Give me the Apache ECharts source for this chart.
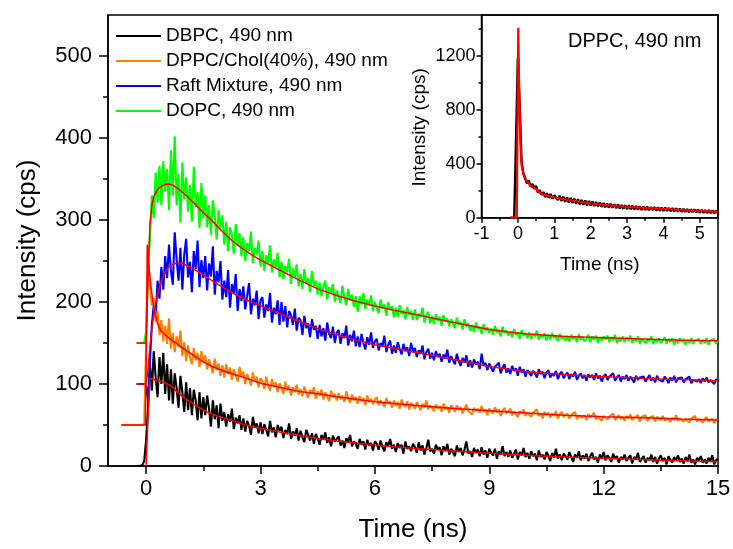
<!DOCTYPE html>
<html><head><meta charset="utf-8">
<script src="https://cdn.jsdelivr.net/npm/echarts@6/dist/echarts.min.js"></script>
<style>html,body{margin:0;padding:0;background:#fff}#c{width:733px;height:549px}</style>
</head><body><div id="c"></div>
<script>
// ---- axis ticks ----
const xTicksMain = [0, 3, 6, 9, 12, 15];
const xMinorMain = [1.5, 4.5, 7.5, 10.5, 13.5];
const yTicksMain = [0, 100, 200, 300, 400, 500];
const yMinorMain = [50, 150, 250, 350, 450];
const xTicksInset = [-1, 0, 1, 2, 3, 4, 5];
const xMinorInset = [-0.5, 0.5, 1.5, 2.5, 3.5, 4.5];
const yTicksInset = [0, 400, 800, 1200];
const yMinorInset = [200, 600, 1000, 1400];

const legendNames = ['DBPC, 490 nm', 'DPPC/Chol(40%), 490 nm', 'Raft Mixture, 490 nm', 'DOPC, 490 nm'];
const insetLabel = 'DPPC, 490 nm';

// ---- measured decays (channel width 0.05 ns) ----
const STEP = 0.05;
const dbpcStart = -0.2;
const dbpcCounts = [0,0,1,6, 32,72, 125,92,140,108,84,133,100,138,88,
124,80,118,76,113,95,71,110,90,66,
102,68,95,62,93,80,56,90,58,84,
62,86,70,48,80,57,74,46,76,55,
66,48,63,54,70,45,59,52,62,44,
58,42,55,49,38,60,47,52,40,53,
39,51,44,36,55,41,47,35,50,43,
48,34,44,39,52,33,42,37,46,31,
43,35,29,44,38,31,40,27,39,34,
26,38,32,41,28,35,24,37,30,33,
36,25,31,22,34,29,38,24,30,27,
21,33,26,30,20,32,25,28,19,30,
27,20,31,23,18,29,24,33,21,26,
17,28,22,26,15,30,21,24,18,27,
23,16,29,19,25,14,22,32,18,21,
15,26,20,23,13,24,18,27,14,21,
19,12,25,17,22,13,20,30,15,18,
11,22,16,20,12,23,14,19,10,21,
16,13,21,9,18,14,24,12,17,11,
19,10,15,20,8,17,13,22,11,16,
9,18,12,15,7,19,11,14,8,17,
13,6,16,10,21,9,14,7,15,12,
8,17,11,5,14,10,18,7,13,9,
15,6,12,16,8,11,4,14,9,17,
7,13,10,5,15,9,12,4,11,8,
14,6,10,13,3,11,8,16,5,9,
12,4,10,7,14,5,11,3,9,13,
6,10,2,12,8,4,11,7,13,5,
9,3,11,6,14,4,8,2,10,7,
12,4,8,3,10,6,13,2,7,9];

const cholStart = -0.65;
const cholCounts = [50,50,50,50,50,50,50,50,50,50,50,50,51, 150,262, 218,196,205,176,189,160,178,152,171,
149,180,143,162,139,158,145,165,134,151,
128,147,133,124,144,129,138,121,140,126,
135,118,130,122,113,131,117,125,110,123,
108,124,112,120,105,118,111,103,121,108,
115,100,112,106,98,114,103,109,96,107,
104,94,109,99,92,106,97,102,90,101,
95,88,103,92,98,86,96,90,99,87,
94,85,97,89,83,93,88,96,82,91,
86,93,81,90,85,79,92,84,88,80,
89,81,86,78,91,83,77,87,80,84,
76,85,79,83,74,86,78,82,75,81,
84,74,80,77,72,83,76,79,71,80,
73,78,70,81,75,72,79,69,77,74,
70,78,73,68,76,71,80,69,74,72,
67,75,70,73,66,76,69,72,65,74,
71,66,74,68,72,64,70,75,67,69,
63,71,67,70,65,73,66,69,62,70,
68,64,72,65,69,61,67,71,64,66,
70,62,66,68,60,67,64,69,61,65,
67,60,65,63,69,61,64,58,66,62,
65,59,64,61,67,58,63,66,60,62,
64,58,62,60,66,57,61,63,59,62,
56,63,59,61,65,57,60,62,55,61,
63,57,60,58,64,56,59,62,57,60,
55,61,58,63,56,59,57,62,54,60,
58,62,55,59,57,61,54,60,58,56,
61,55,58,60,54,59,56,62,55,58,
60,54,57,59,53,58,56,61,54,57,
59,53,57,60,54,56,58,52,57,56];

const raftStart = -0.25;
const raftCounts = [100,100,100,100,100, 97,80, 128,172,196,181,226,204,243,215,256,
229,270,238,221,285,252,226,266,215,258,
277,230,249,212,262,240,275,218,251,229,
256,214,247,231,268,209,238,224,250,203,
226,206,239,193,222,210,234,189,216,201,
219,191,208,223,185,204,196,214,179,202,
206,181,197,189,211,175,193,185,202,172,
200,176,195,169,189,184,172,192,165,181,
178,160,183,168,174,157,179,166,171,155,
172,158,168,153,175,161,156,170,150,163,
166,149,162,156,171,147,160,152,165,146,
158,145,161,150,142,157,148,163,144,152,
155,141,150,146,159,139,148,153,137,147,
138,151,143,136,149,140,145,134,150,139,
144,133,141,137,147,130,139,143,131,138,
129,140,133,137,127,136,131,142,126,134,
133,124,137,128,122,132,126,135,121,129,
120,130,124,127,118,137,122,126,117,125,
123,115,121,119,126,113,120,124,114,119,
112,122,116,119,110,121,114,118,109,117,
119,110,116,113,108,118,112,115,107,114,
117,108,113,110,116,106,112,115,107,111,
114,106,112,109,115,105,110,113,107,111,
104,112,108,111,105,113,107,110,103,109,
112,105,109,107,113,104,108,111,103,109,
106,111,104,109,107,102,110,105,108,106,
109,103,107,111,104,108,102,110,105,107,
103,109,106,101,108,104,110,102,107,105,
108,102,106,104,109,101,105,107,103,106,
101,107,103,108,102,105,104,100,106,103];

const dopcStart = -0.25;
const dopcCounts = [150,150,150,150,150, 165,240, 278,330,302,358,321,366,318,372,335,
362,312,385,330,402,318,356,297,370,325,
352,310,343,298,365,316,334,290,345,302,
330,291,318,282,324,305,276,312,290,306,
270,298,262,291,282,259,295,268,284,256,
279,250,272,262,286,247,266,258,275,243,
262,238,257,247,269,236,252,243,260,230,
249,228,244,236,253,222,241,230,246,219,
234,216,240,222,229,212,238,219,226,209,
224,207,219,226,203,218,210,222,200,214,
213,199,220,205,196,216,202,209,194,207,
188,207,197,211,191,203,196,208,189,200,
199,186,203,192,197,183,200,190,195,181,
193,182,196,185,190,179,194,184,189,178,
191,178,186,182,193,175,184,188,174,183,
173,185,177,182,171,184,176,180,170,179,
178,168,181,172,176,166,179,170,174,165,
172,163,175,167,170,161,173,165,169,162,
168,160,171,163,166,158,170,162,165,159,
164,157,167,160,163,155,166,159,162,156,
163,155,161,158,165,154,160,157,162,153,
160,154,162,156,159,152,161,155,158,153,
159,152,160,155,158,151,161,154,157,152,
155,160,151,158,154,159,150,157,153,158,
154,159,151,157,153,160,150,156,152,158,
151,157,153,159,150,156,152,158,149,155,
157,150,155,152,158,149,154,151,156,150,
153,157,149,155,151,156,148,154,150,156,
151,155,148,154,150,156,149,153,151,155,
149,154,150,156,148,153,151,155,149,153];

const dppcStart = -0.2;
const dppcCounts = [0,0,2,5, 1180,820,420,330,
318,255,276,229,250,214,236,186,203,169,190,152,181,147,175,140,166,
170,131,162,124,155,118,150,112,147,109,
141,103,137,99,132,96,127,92,124,90,
120,87,116,84,112,80,109,78,105,76,
104,74,100,71,97,69,94,66,92,65,
92,63,89,61,87,60,85,58,83,57,
82,56,79,55,78,53,77,52,75,51,
74,50,72,48,71,47,69,45,67,44,
66,43,64,42,62,41,61,39,59,38,
58,37,56,35,55,34,53,33,52,32];

// ---- fitted curves [time ns, counts] ----
const dbpcFit = [[0,0],[0.05,60],[0.1,107],[0.2,105.5],[0.3,104],[0.4,103],[0.5,101.5],[0.55,101],[0.6,99],[0.7,96],[0.8,91],[0.9,87],[1,83],[1.25,75.5],[1.5,68],[1.75,63],[2,59],[2.25,55.5],[2.5,51.5],[2.75,48.5],[3,46],[3.5,41.5],[4,37.5],[4.5,33.5],[5,30.5],[5.5,28],[6,25.5],[6.5,23.5],[7,21.5],[7.5,20],[8,18.5],[8.5,17],[9,15.5],[9.5,14.2],[10,13],[10.5,12],[11,11],[11.5,10.2],[12,9.4],[12.5,8.6],[13,7.8],[13.5,7.1],[14,6.5],[14.5,5.9],[15,5.3]];
const cholFit = [[-0.65,50],[-0.02,50],[0.01,160],[0.03,270],[0.06,250],[0.1,230],[0.15,210],[0.2,194],[0.25,183],[0.3,174],[0.35,168],[0.4,164],[0.5,160],[0.6,156],[0.7,152.5],[0.8,149.5],[0.9,146],[1,142.5],[1.25,134.5],[1.5,127],[1.75,121],[2,116.5],[2.25,112.5],[2.5,109],[2.75,105],[3,101],[3.5,96],[4,91],[4.5,88],[5,84.5],[5.5,81.5],[6,78.5],[6.5,76.2],[7,74],[7.5,72.2],[8,70.5],[8.5,69],[9,67.5],[9.5,66],[10,64.5],[10.5,63.2],[11,62],[11.5,61],[12,60.2],[12.5,59.5],[13,58.8],[13.5,58.1],[14,57.4],[14.5,56.8],[15,56.2]];
const raftFit = [[-0.25,100],[0,100],[0.05,118],[0.1,145],[0.15,168],[0.2,185],[0.25,198],[0.3,209],[0.35,218],[0.4,226],[0.5,237],[0.6,243],[0.7,246],[0.8,247.5],[0.9,247.5],[1,246],[1.2,241.5],[1.4,236],[1.6,230],[1.8,224],[2,218.5],[2.25,211.5],[2.5,205.5],[2.75,200],[3,195.5],[3.5,186],[4,176.5],[4.5,167.5],[5,160],[5.5,153.5],[6,148],[6.5,143.5],[7,139],[7.5,135],[8,130.5],[8.5,126],[9,121.5],[9.5,118],[10,115],[10.5,113],[11,111.5],[11.5,110.2],[12,109],[12.5,108],[13,107],[13.5,106.2],[14,105.5],[14.5,104.8],[15,104]];
const dopcFit = [[-0.25,150],[0,150],[0.05,232],[0.1,295],[0.15,318],[0.2,328],[0.25,333],[0.3,337],[0.35,339.5],[0.4,341],[0.5,343.5],[0.6,344],[0.7,342.5],[0.8,339.5],[0.9,336],[1,332],[1.25,321],[1.5,309],[1.75,298],[2,286],[2.25,275],[2.5,266],[2.75,258],[3,251],[3.5,239],[4,227],[4.5,216],[5,208],[5.5,201],[6,195],[6.5,190],[7,185.5],[7.5,180.5],[8,175.5],[8.5,171],[9,166.5],[9.5,163.5],[10,161],[10.5,159.5],[11,158],[11.5,157.2],[12,156.5],[12.5,155.7],[13,155],[13.5,154.2],[14,153.5],[14.5,153],[15,152.6]];
const dppcFit = [[-0.22,0],[-0.03,0],[0.01,1405],[0.03,1050],[0.05,762],[0.075,530],[0.1,391],[0.15,325],[0.19,292],[0.25,268],[0.33,243],[0.4,226],[0.45,232],[0.5,215],[0.6,185],[0.7,172],[0.8,164],[0.92,156],[1,150],[1.25,137],[1.5,126],[1.75,116],[2,106],[2.25,98],[2.5,91],[2.75,85],[3,80],[3.5,72],[4,65],[4.5,57],[5,50],[5.5,43]];

// ---- build chart ----
const FONT = '"Liberation Sans", Arial, sans-serif';
function channels(start, vals) {
  return vals.map((v, i) => [Math.round((start + i * STEP) * 100) / 100, v]);
}
function lineS(name, data, color, width, xi, yi, z) {
  return { name: name, type: 'line', data: data, xAxisIndex: xi, yAxisIndex: yi,
    symbol: 'none', showSymbol: false, animation: false, z: z,
    lineStyle: { color: color, width: width }, itemStyle: { color: color } };
}
function axis(o) {
  const base = { type: 'value', splitLine: { show: false },
    axisLine: { show: true, onZero: false, lineStyle: { color: '#000', width: 1.5 } },
    axisTick: { show: true, inside: false, lineStyle: { color: '#000', width: 1.5 } },
    axisLabel: { color: '#000', fontFamily: FONT, formatter: v => String(v) },
    nameTextStyle: { color: '#000', fontFamily: FONT } };
  const r = Object.assign({}, base, o);
  r.axisLine = Object.assign({}, base.axisLine, o.axisLine || {});
  r.axisTick = Object.assign({}, base.axisTick, o.axisTick || {});
  r.axisLabel = Object.assign({}, base.axisLabel, o.axisLabel || {});
  r.nameTextStyle = Object.assign({}, base.nameTextStyle, o.nameTextStyle || {});
  return r;
}

const chart = echarts.init(document.getElementById('c'), null, { renderer: 'canvas' });
const RED = '#FF0000';
const DW = 2.1;
chart.setOption({
  animation: false,
  backgroundColor: '#fff',
  textStyle: { fontFamily: FONT },
  grid: [
    { left: 108, top: 15, width: 610, height: 451, show: true, borderColor: '#000', borderWidth: 1.5, outerBoundsMode: 'none' },
    { left: 481.5, top: 15, width: 236.5, height: 202.7, show: true, borderColor: '#000', borderWidth: 1.5, outerBoundsMode: 'none' }
  ],
  title: { text: insetLabel, left: 568, top: 31, padding: 0,
    textStyle: { fontSize: 20, fontWeight: 'normal', color: '#000', fontFamily: FONT } },
  legend: { data: legendNames, orient: 'vertical', left: 116, top: 26.5, padding: 0,
    icon: 'rect', itemWidth: 45, itemHeight: 2, itemGap: 6,
    textStyle: { fontSize: 19, color: '#000', fontFamily: FONT } },
  xAxis: [
    axis({ gridIndex: 0, min: -1, max: 15, position: 'bottom',
      axisTick: { length: 8, customValues: xTicksMain },
      axisLabel: { customValues: xTicksMain, fontSize: 22, margin: 12 },
      name: 'Time (ns)', nameLocation: 'middle', nameGap: 51, nameTextStyle: { fontSize: 26 } }),
    axis({ gridIndex: 0, min: -1, max: 15, position: 'bottom',
      axisLine: { show: false }, axisTick: { length: 5, customValues: xMinorMain },
      axisLabel: { show: false } }),
    axis({ gridIndex: 1, min: -1, max: 5.5, position: 'bottom',
      axisTick: { length: 5, customValues: xTicksInset },
      axisLabel: { customValues: xTicksInset, fontSize: 18, margin: 7 },
      name: 'Time (ns)', nameLocation: 'middle', nameGap: 38, nameTextStyle: { fontSize: 19 } }),
    axis({ gridIndex: 1, min: -1, max: 5.5, position: 'bottom',
      axisLine: { show: false }, axisTick: { length: 3, customValues: xMinorInset },
      axisLabel: { show: false } })
  ],
  yAxis: [
    axis({ gridIndex: 0, min: 0, max: 550, position: 'left',
      axisTick: { length: 9, customValues: yTicksMain },
      axisLabel: { customValues: yTicksMain, fontSize: 22, margin: 16 },
      name: 'Intensity (cps)', nameLocation: 'middle', nameGap: 67, nameTextStyle: { fontSize: 26 } }),
    axis({ gridIndex: 0, min: 0, max: 550, position: 'left',
      axisLine: { show: false }, axisTick: { length: 5, customValues: yMinorMain },
      axisLabel: { show: false } }),
    axis({ gridIndex: 1, min: 0, max: 1500, position: 'left',
      axisTick: { length: 5, customValues: yTicksInset },
      axisLabel: { customValues: yTicksInset, fontSize: 18, margin: 6 },
      name: 'Intensity (cps)', nameLocation: 'middle', nameGap: 52,
      nameTextStyle: { fontSize: 19, padding: [0, 22, 0, 0] } }),
    axis({ gridIndex: 1, min: 0, max: 1500, position: 'left',
      axisLine: { show: false }, axisTick: { length: 3, customValues: yMinorInset },
      axisLabel: { show: false } })
  ],
  series: [
    lineS(legendNames[0], channels(dbpcStart, dbpcCounts), '#000000', DW, 0, 0, 2),
    lineS(legendNames[2], channels(raftStart, raftCounts), '#0000FF', DW, 0, 0, 3),
    lineS(legendNames[3], channels(dopcStart, dopcCounts), '#00FF00', DW, 0, 0, 4),
    lineS(legendNames[1], channels(cholStart, cholCounts), '#FF8000', DW, 0, 0, 5),
    lineS('fit1', dbpcFit, RED, 1.5, 0, 0, 10),
    lineS('fit2', cholFit, RED, 1.5, 0, 0, 10),
    lineS('fit3', raftFit, RED, 1.5, 0, 0, 10),
    lineS('fit4', dopcFit, RED, 1.5, 0, 0, 10),
    lineS('DPPC', channels(dppcStart, dppcCounts), '#000000', 2.4, 2, 2, 6),
    lineS('fitDPPC', dppcFit, RED, 2.2, 2, 2, 11)
  ]
});
</script>
</body></html>
